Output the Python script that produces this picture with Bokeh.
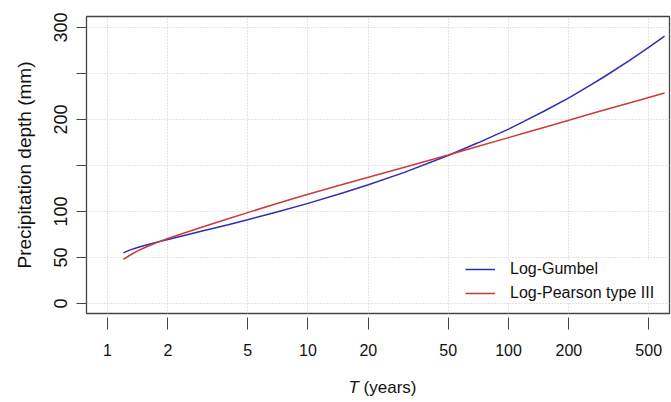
from bokeh.plotting import figure
from bokeh.models import (Range1d, FixedTicker, NumeralTickFormatter, Div,
                          ColumnDataSource)
from bokeh.layouts import column
from bokeh.embed import file_html
from bokeh.resources import INLINE

# ---- data ----
T_years = [1.2, 1.3, 1.4, 1.5, 1.6, 1.8, 2, 2.5, 3, 4, 5, 7, 10, 15, 20, 30,
           50, 70, 100, 120, 150, 200, 250, 300, 400, 500, 600]
log_gumbel = [55.0, 58.3, 60.5, 62.4, 64.1, 67.1, 69.6, 74.8, 79.0, 85.7,
              91.0, 99.4, 108.8, 120.3, 129.0, 142.3, 160.9, 174.4, 189.5,
              198.2, 209.0, 223.5, 236.1, 246.5, 264.0, 278.4, 290.7]
log_pearson3 = [48.0, 52.7, 56.6, 59.8, 62.5, 67.0, 70.6, 77.7, 83.4, 92.1,
                98.8, 108.6, 118.7, 129.6, 137.2, 147.9, 161.5, 170.6, 180.3,
                185.3, 191.4, 199.3, 205.4, 210.3, 218.0, 224.0, 228.9]
x_ticks = [1, 2, 5, 10, 20, 50, 100, 200, 500]
y_ticks = [0, 50, 100, 150, 200, 250, 300]
y_hidden_labels = [150, 250]

FONT = "Liberation Sans"

p = figure(width=671, height=372, x_axis_type="log",
           x_range=Range1d(0.786, 635), y_range=Range1d(-10.9, 312),
           output_backend="svg", toolbar_location=None)
p.min_border = 0
p.min_border_left = 86
p.min_border_right = 2
p.min_border_top = 16
p.min_border_bottom = 59

p.outline_line_color = "#444444"
p.outline_line_width = 1.3
p.background_fill_color = "white"
p.border_fill_color = "white"

src = ColumnDataSource(dict(T=T_years, g=log_gumbel, lp=log_pearson3))
p.line("T", "g", source=src, line_color="#2E2EB5", line_width=1.5,
       legend_label="Log-Gumbel")
p.line("T", "lp", source=src, line_color="#CC3B3B", line_width=1.5,
       legend_label="Log-Pearson type III")

# grids
for g in (p.xgrid, p.ygrid):
    g.grid_line_color = "#c8c8c8"
    g.grid_line_dash = "1 2"
    g.grid_line_width = 1

# x axis
xa = p.xaxis[0]
xa.ticker = FixedTicker(ticks=x_ticks, minor_ticks=[])
xa.formatter = NumeralTickFormatter(format="0")
xa.axis_line_color = None
xa.major_tick_in = -4
xa.major_tick_out = 16
xa.major_tick_line_color = "#444444"
xa.major_label_standoff = 14
xa.major_label_text_font = FONT
xa.major_label_text_font_size = "16px"
xa.major_label_text_color = "#111111"
xa.axis_label = None

# y axis
ya = p.yaxis[0]
ya.ticker = FixedTicker(ticks=y_ticks, minor_ticks=[])
ya.major_label_overrides = {v: "" for v in y_hidden_labels}
ya.axis_line_color = None
ya.major_tick_in = 0
ya.major_tick_out = 10
ya.major_tick_line_color = "#444444"
ya.major_label_orientation = "vertical"
ya.major_label_standoff = 9
ya.major_label_text_font = FONT
ya.major_label_text_font_size = "18px"
ya.major_label_text_color = "#111111"
ya.axis_label = "Precipitation depth (mm)"
ya.axis_label_text_font = FONT
ya.axis_label_text_font_size = "19px"
ya.axis_label_text_font_style = "normal"
ya.axis_label_text_color = "#111111"
ya.axis_label_standoff = 17

# legend
lg = p.legend[0]
lg.location = (379, 11)
lg.border_line_color = None
lg.background_fill_color = "white"
lg.background_fill_alpha = 1.0
lg.padding = 3
lg.margin = 0
lg.spacing = 6
lg.glyph_width = 30
lg.glyph_height = 18
lg.label_height = 18
lg.label_standoff = 15
lg.label_text_font = FONT
lg.label_text_font_size = "16px"
lg.label_text_color = "#111111"

# x axis title: italic T followed by (years), centred under the frame
xtitle = Div(
    text=('<div style="width:671px;box-sizing:border-box;padding-left:84px;'
          'padding-top:1px;text-align:center;font-family:\'Liberation Sans\';'
          'font-size:17px;line-height:20px;color:#111111;">'
          '<i>T</i> (years)</div>'),
    width=671, height=30)

layout = column(p, xtitle, spacing=0)

open("out.html", "w").write(file_html(layout, INLINE))
